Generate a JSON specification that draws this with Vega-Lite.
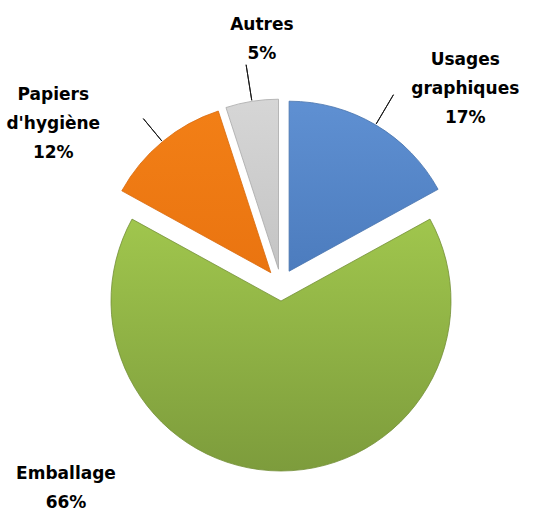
{
  "$schema": "https://vega.github.io/schema/vega-lite/v6.json",
  "width": 530,
  "height": 454,
  "autosize": {"type": "none"},
  "padding": {"left": 16, "top": 58, "right": 0, "bottom": 0},
  "background": "white",
  "config": {"view": {"stroke": null}},
  "data": {
    "values": [
      {"categorie": "Usages graphiques", "part": 17, "ordre": 1, "etiquette": "Usages\ngraphiques\n17%"},
      {"categorie": "Emballage", "part": 66, "ordre": 2, "etiquette": "Emballage\n66%"},
      {"categorie": "Papiers d'hygiène", "part": 12, "ordre": 3, "etiquette": "Papiers\nd'hygiène\n12%"},
      {"categorie": "Autres", "part": 5, "ordre": 4, "etiquette": "Autres\n5%"}
    ]
  },
  "transform": [
    {"stack": "part", "groupby": [], "sort": [{"field": "ordre", "order": "ascending"}], "as": ["debut", "fin"]}
  ],
  "layer": [
    {
      "transform": [{"filter": "datum.categorie === 'Usages graphiques'"}],
      "mark": {"type": "arc", "outerRadius": 170, "xOffset": 8.1, "yOffset": -13.8, "stroke": "#4672AC", "strokeWidth": 0.8,
        "fill": {"gradient": "linear", "x1": 0, "y1": 0, "x2": 0, "y2": 1, "stops": [{"offset": 0, "color": "#5F90D2"}, {"offset": 1, "color": "#4C7CBE"}]}},
      "encoding": {
        "theta": {"field": "debut", "type": "quantitative", "scale": {"domain": [0, 100]}},
        "theta2": {"field": "fin"}
      }
    },
    {
      "transform": [{"filter": "datum.categorie === 'Emballage'"}],
      "mark": {"type": "arc", "outerRadius": 170, "xOffset": 0, "yOffset": 16, "stroke": "#738F37", "strokeWidth": 0.8,
        "fill": {"gradient": "linear", "x1": 0, "y1": 0, "x2": 0, "y2": 1, "stops": [{"offset": 0, "color": "#A0C64D"}, {"offset": 1, "color": "#7D9C3C"}]}},
      "encoding": {
        "theta": {"field": "debut", "type": "quantitative", "scale": {"domain": [0, 100]}},
        "theta2": {"field": "fin"}
      }
    },
    {
      "transform": [{"filter": "datum.categorie === \"Papiers d'hygiène\""}],
      "mark": {"type": "arc", "outerRadius": 170, "xOffset": -10.2, "yOffset": -12.3, "stroke": "#D8690C", "strokeWidth": 0.8,
        "fill": {"gradient": "linear", "x1": 0, "y1": 0, "x2": 0, "y2": 1, "stops": [{"offset": 0, "color": "#F27F16"}, {"offset": 1, "color": "#EA7410"}]}},
      "encoding": {
        "theta": {"field": "debut", "type": "quantitative", "scale": {"domain": [0, 100]}},
        "theta2": {"field": "fin"}
      }
    },
    {
      "transform": [{"filter": "datum.categorie === 'Autres'"}],
      "mark": {"type": "arc", "outerRadius": 170, "xOffset": -2.5, "yOffset": -15.8, "stroke": "#A8A8A8", "strokeWidth": 0.8,
        "fill": {"gradient": "linear", "x1": 0, "y1": 0, "x2": 0, "y2": 1, "stops": [{"offset": 0, "color": "#D6D6D6"}, {"offset": 1, "color": "#C4C4C4"}]}},
      "encoding": {
        "theta": {"field": "debut", "type": "quantitative", "scale": {"domain": [0, 100]}},
        "theta2": {"field": "fin"}
      }
    },
    {
      "transform": [{"filter": "datum.categorie === 'Usages graphiques'"}],
      "mark": {"type": "arc", "innerRadius": 171, "outerRadius": 205, "padAngle": 3, "xOffset": 8.1, "yOffset": -13.8, "filled": false, "stroke": "#1a1a1a", "strokeWidth": 1},
      "encoding": {
        "theta": {"field": "debut", "type": "quantitative", "scale": {"domain": [0, 100]}},
        "theta2": {"field": "fin"}
      }
    },
    {
      "transform": [{"filter": "datum.categorie === \"Papiers d'hygiène\""}],
      "mark": {"type": "arc", "innerRadius": 171, "outerRadius": 200, "padAngle": 3, "xOffset": -10.2, "yOffset": -12.3, "filled": false, "stroke": "#1a1a1a", "strokeWidth": 1},
      "encoding": {
        "theta": {"field": "debut", "type": "quantitative", "scale": {"domain": [0, 100]}},
        "theta2": {"field": "fin"}
      }
    },
    {
      "transform": [{"filter": "datum.categorie === 'Autres'"}],
      "mark": {"type": "arc", "innerRadius": 171, "outerRadius": 207, "padAngle": 3, "xOffset": -2.5, "yOffset": -15.8, "filled": false, "stroke": "#1a1a1a", "strokeWidth": 1},
      "encoding": {
        "theta": {"field": "debut", "type": "quantitative", "scale": {"domain": [0, 100]}},
        "theta2": {"field": "fin"}
      }
    },
    {
      "mark": {"type": "text", "radius": 250, "dx": 57, "dy": -10, "font": "DejaVu Sans", "fontWeight": "bold", "fontSize": 17, "lineHeight": 29, "lineBreak": "\n", "align": "center", "baseline": "middle", "color": "#000000"},
      "encoding": {
        "theta": {"field": "part", "type": "quantitative", "stack": true},
        "order": {"field": "ordre", "type": "quantitative"},
        "text": {"condition": {"test": "datum.categorie === 'Usages graphiques'", "field": "etiquette"}, "value": ""}
      }
    },
    {
      "mark": {"type": "text", "radius": 200, "dx": -215, "dy": -11, "font": "DejaVu Sans", "fontWeight": "bold", "fontSize": 17, "lineHeight": 29, "lineBreak": "\n", "align": "center", "baseline": "middle", "color": "#000000"},
      "encoding": {
        "theta": {"field": "part", "type": "quantitative", "stack": true},
        "order": {"field": "ordre", "type": "quantitative"},
        "text": {"condition": {"test": "datum.categorie === 'Emballage'", "field": "etiquette"}, "value": ""}
      }
    },
    {
      "mark": {"type": "text", "radius": 260, "dx": -62, "dy": 10, "font": "DejaVu Sans", "fontWeight": "bold", "fontSize": 17, "lineHeight": 29, "lineBreak": "\n", "align": "center", "baseline": "middle", "color": "#000000"},
      "encoding": {
        "theta": {"field": "part", "type": "quantitative", "stack": true},
        "order": {"field": "ordre", "type": "quantitative"},
        "text": {"condition": {"test": "datum.categorie === \"Papiers d'hygiène\"", "field": "etiquette"}, "value": ""}
      }
    },
    {
      "mark": {"type": "text", "radius": 250, "dx": 20, "dy": -13, "font": "DejaVu Sans", "fontWeight": "bold", "fontSize": 17, "lineHeight": 29, "lineBreak": "\n", "align": "center", "baseline": "middle", "color": "#000000"},
      "encoding": {
        "theta": {"field": "part", "type": "quantitative", "stack": true},
        "order": {"field": "ordre", "type": "quantitative"},
        "text": {"condition": {"test": "datum.categorie === 'Autres'", "field": "etiquette"}, "value": ""}
      }
    }
  ]
}
